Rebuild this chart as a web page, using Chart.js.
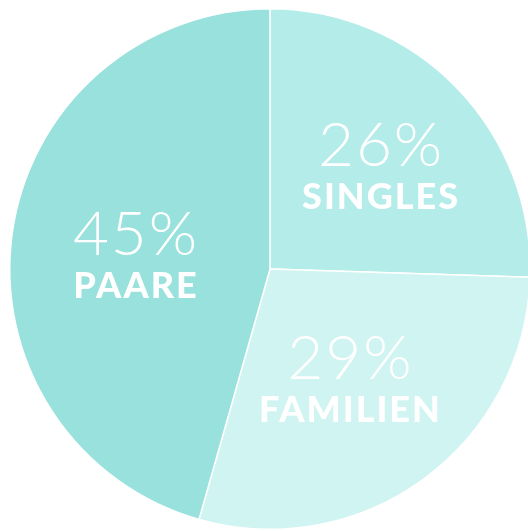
<!DOCTYPE html>
<html>
<head>
<meta charset="utf-8">
<script src="https://cdn.jsdelivr.net/npm/chart.js@4.4.1/dist/chart.umd.min.js"></script>
<style>
  html, body { margin: 0; padding: 0; background: #ffffff; overflow: hidden; }
  #wrap { position: absolute; left: 0; top: 0; width: 540px; height: 540px; }
</style>
</head>
<body>
<div id="wrap"><canvas id="c" width="540" height="540"></canvas></div>
<script>
// ---- data ----
const categories = ["SINGLES", "FAMILIEN", "PAARE"];
const shares = [25.5, 28.9, 45.6];           // slice sizes
const percentLabels = ["26%", "29%", "45%"];  // printed percentages
const sliceColors = ["#b4ece9", "#d0f4f1", "#98e1dc"];

const labelPlugin = {
  id: "sliceLabels",
  afterDatasetsDraw(chart, args, opts) {
    const ctx = chart.ctx;
    const meta = chart.getDatasetMeta(0);
    meta.data.forEach((arc, i) => {
      const p = opts.placement[i];
      const mid = (arc.startAngle + arc.endAngle) / 2 + p[1] * Math.PI / 180;
      const r = arc.outerRadius * p[0];
      const cx = arc.x + Math.cos(mid) * r;
      const cy = arc.y + Math.sin(mid) * r;
      ctx.save();
      ctx.fillStyle = "#ffffff";
      ctx.textAlign = "center";
      ctx.textBaseline = "alphabetic";
      ctx.font = "300 62px Lato";
      try { ctx.letterSpacing = "2px"; } catch (e) {}
      ctx.fillText(percentLabels[i], cx + 1, cy - 4);
      ctx.font = "900 36px Lato";
      try { ctx.letterSpacing = "2px"; } catch (e) {}
      ctx.fillText(chart.data.labels[i], cx + 1, cy + 39);
      ctx.restore();
    });
  }
};

new Chart(document.getElementById("c"), {
  type: "pie",
  data: {
    labels: categories,
    datasets: [{
      data: shares,
      backgroundColor: sliceColors,
      borderColor: "#ffffff",
      borderWidth: 1.5
    }]
  },
  options: {
    responsive: false,
    animation: false,
    layout: { padding: { left: 9, right: 9, top: 8, bottom: 10 } },
    plugins: {
      legend: { display: false },
      tooltip: { enabled: false },
      sliceLabels: { placement: [[0.57, 2], [0.535, 1.4], [0.52, -3.7]] }
    }
  },
  plugins: [labelPlugin]
});
</script>
</body>
</html>
